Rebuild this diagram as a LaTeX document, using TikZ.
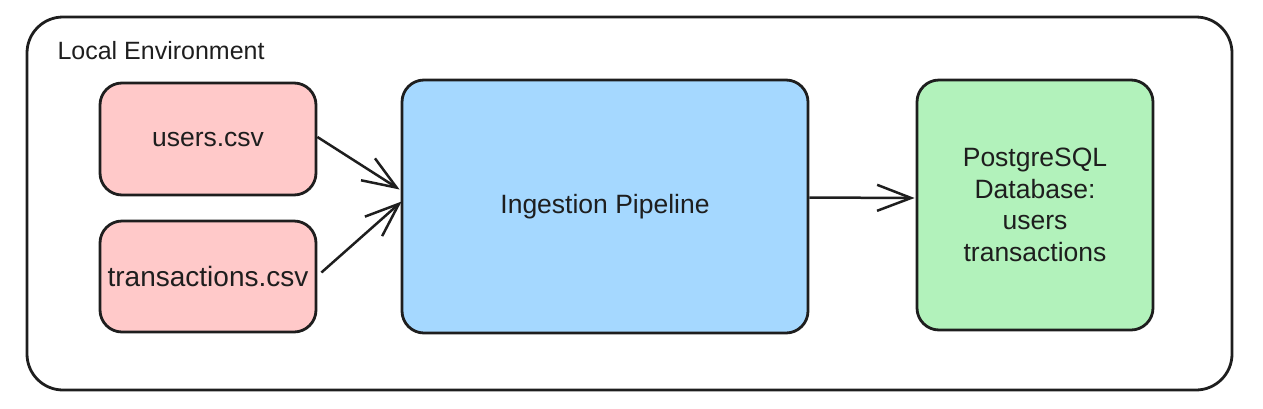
\documentclass[tikz,border=0pt]{standalone}
\usepackage{fontspec}
\setmainfont{Liberation Sans}
\usetikzlibrary{arrows.meta,calc}
\definecolor{strokec}{HTML}{1E1E1E}
\definecolor{pinkf}{HTML}{FFC9C9}
\definecolor{bluef}{HTML}{A5D8FF}
\definecolor{greenf}{HTML}{B2F2BB}
\begin{document}
\begin{tikzpicture}[x=1pt,y=-1pt,
  box/.style={draw=strokec,line width=2.8pt,rounded corners=22pt,inner sep=0pt,
    font=\fontsize{26.5}{31.5}\selectfont,text=strokec,align=center},
  conn/.style={draw=strokec,line width=2.5pt,-{Straight Barb[length=34pt,width=26pt,line width=2.5pt]}}]
\useasboundingbox (0,0) rectangle (1263,408);
\node[draw=strokec,line width=2.8pt,rounded corners=36pt,minimum width=1205pt,minimum height=373pt,inner sep=0pt] (env) at (629.5,203.5) {};
\node[anchor=west,font=\fontsize{25}{30}\selectfont,text=strokec] (envlabel) at (54,51) {Local Environment};
\node[box,fill=pinkf,minimum width=216pt,minimum height=112pt] (users) at (208,139) {users.csv};
\node[box,fill=pinkf,minimum width=216pt,minimum height=111pt] (trans) at (208,276.5) {\fontsize{28}{32}\selectfont transactions.csv};
\node[box,fill=bluef,minimum width=406pt,minimum height=253pt] (ingest) at (605,206.5) {Ingestion Pipeline};
\node[box,fill=greenf,minimum width=236pt,minimum height=250pt] (pg) at (1035,205) {PostgreSQL\\Database:\\users\\transactions};
\coordinate (u1) at ($(users.east)+(0,-2)$);
\coordinate (i1) at ($(ingest.west)+(-1,-17)$);
\coordinate (t1) at ($(trans.east)+(4,-4)$);
\coordinate (i2) at ($(ingest.west)+(1,-5)$);
\coordinate (i3) at ($(ingest.east)+(0,-9)$);
\coordinate (p3) at ($(pg.west)+(-1,-7)$);
\draw[conn] (u1) -- (i1);
\draw[conn] (t1) -- (i2);
\draw[conn] (i3) -- (p3);
\end{tikzpicture}
\end{document}
